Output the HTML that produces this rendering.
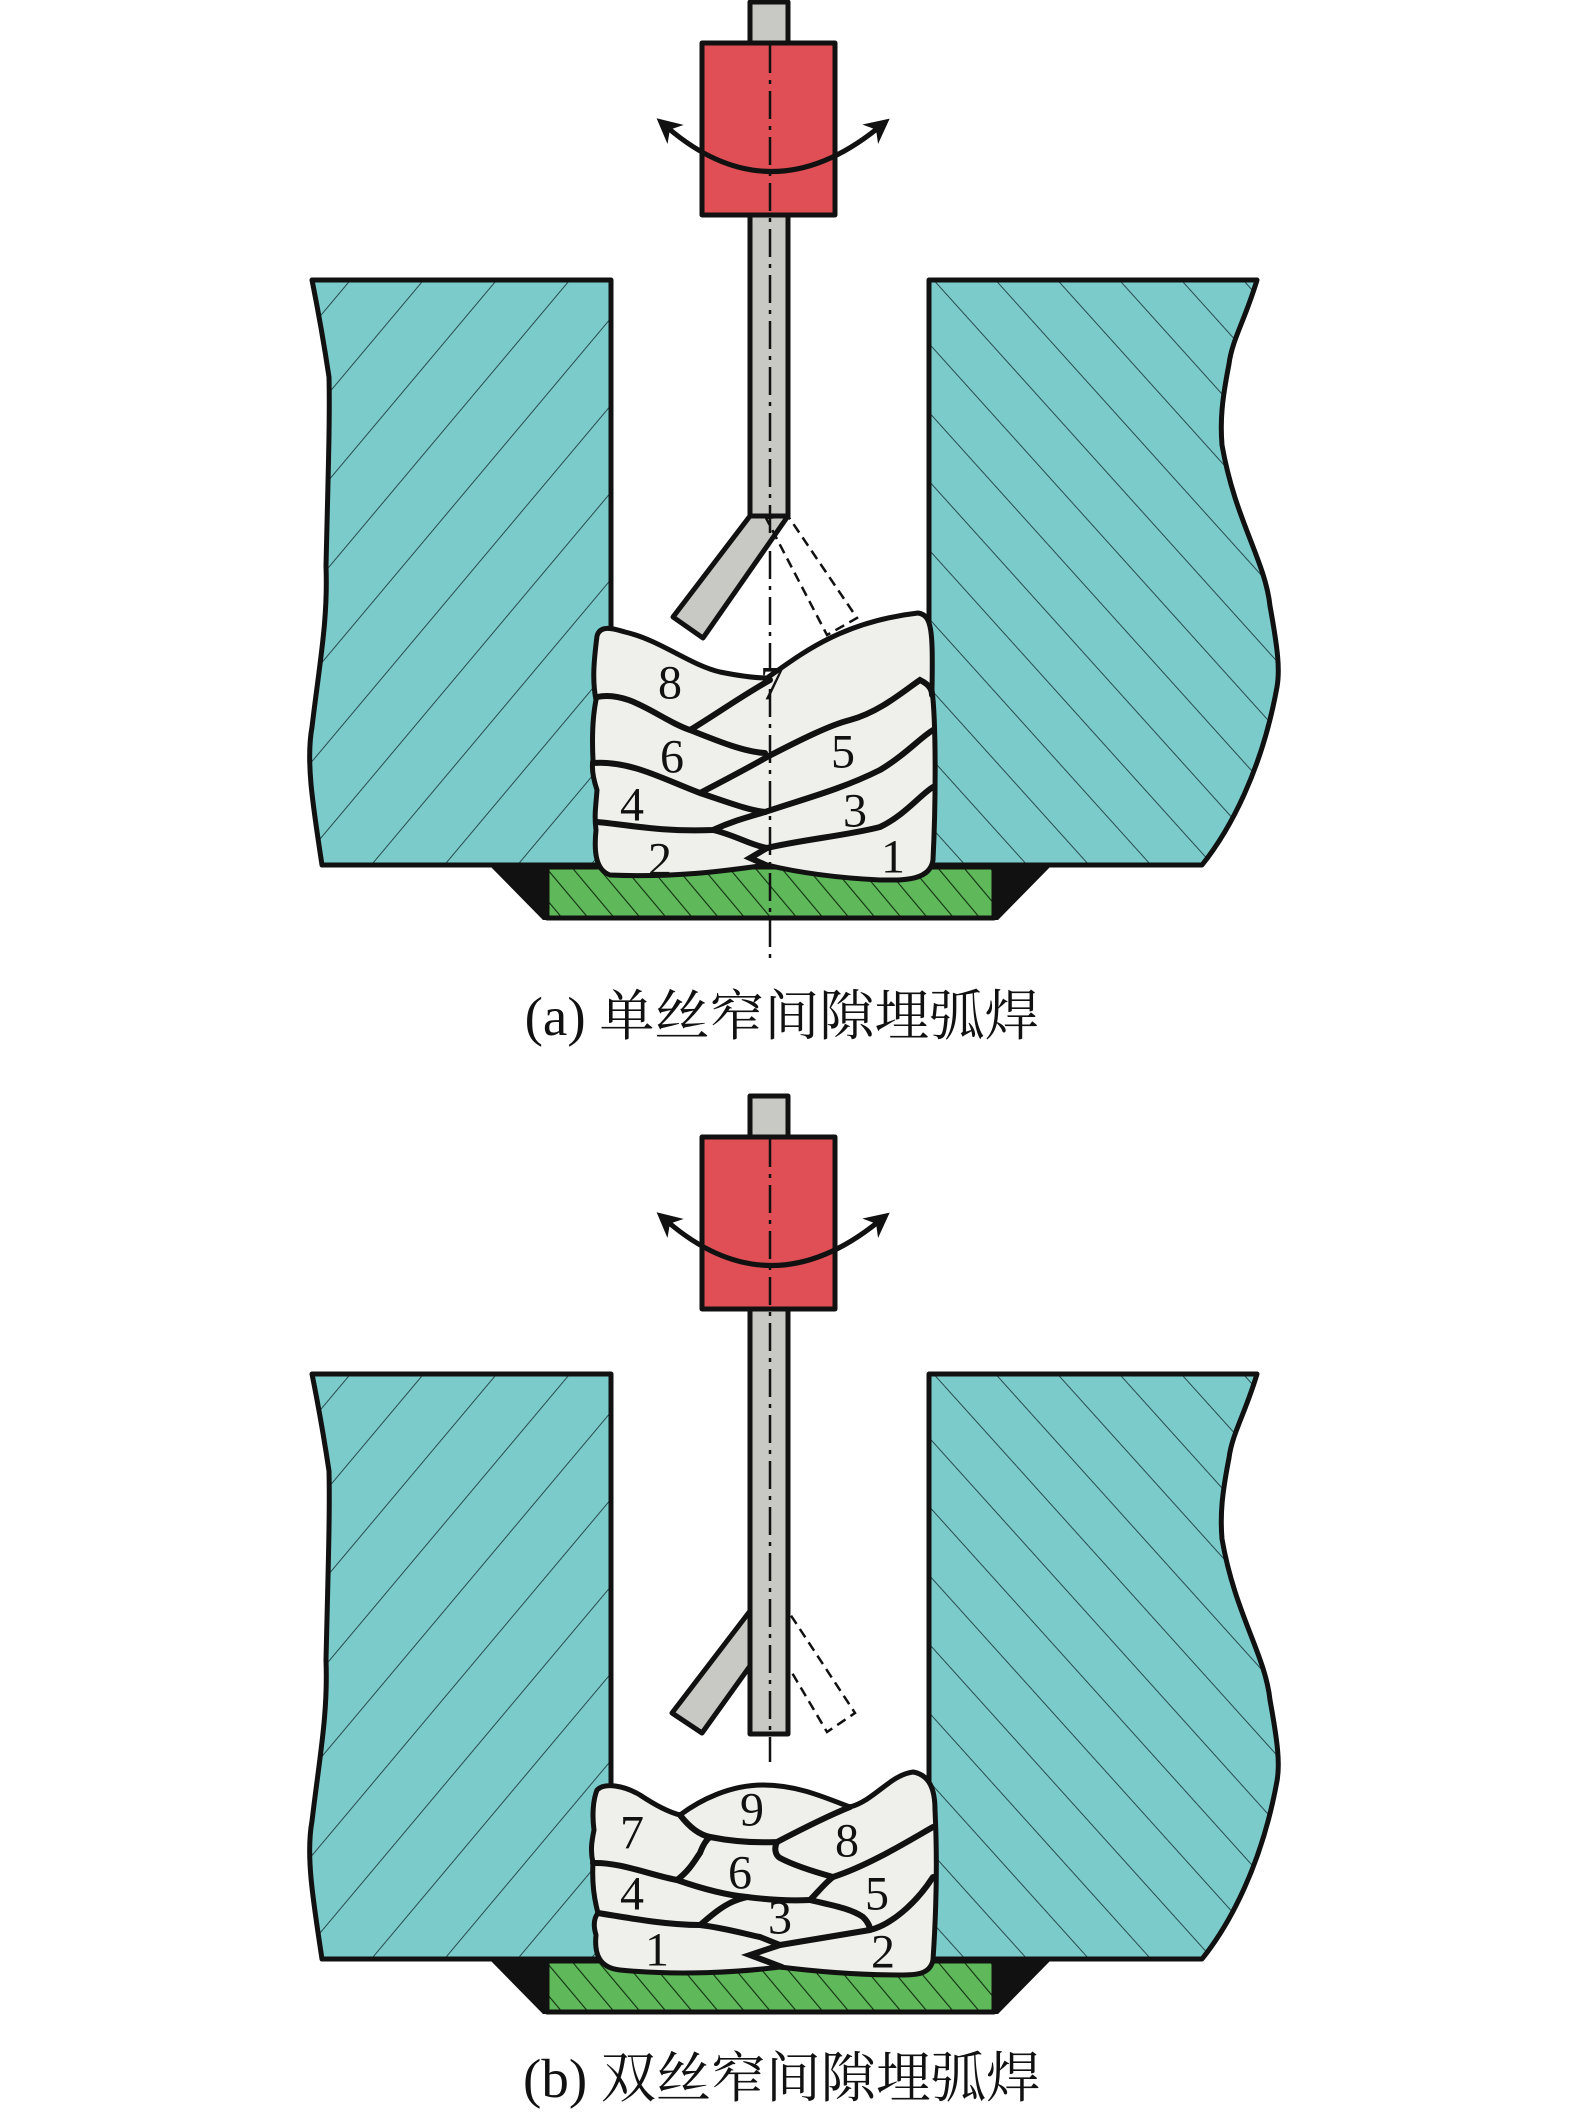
<!DOCTYPE html>
<html><head><meta charset="utf-8"><style>html,body{margin:0;padding:0;background:#fff}svg{display:block}</style></head>
<body>
<svg width="1575" height="2112" viewBox="0 0 1575 2112" xmlns="http://www.w3.org/2000/svg">
<defs>
<pattern id="hl" patternUnits="userSpaceOnUse" width="56" height="56" patternTransform="rotate(40)">
<rect width="56" height="56" fill="#7ccbcb"/><line x1="0" y1="0" x2="0" y2="56" stroke="#1d3d40" stroke-width="1.8"/></pattern>
<pattern id="hr" patternUnits="userSpaceOnUse" width="46" height="46" patternTransform="rotate(-42)">
<rect width="46" height="46" fill="#7ccbcb"/><line x1="0" y1="0" x2="0" y2="46" stroke="#1d3d40" stroke-width="1.8"/></pattern>
<pattern id="hg" patternUnits="userSpaceOnUse" width="20" height="20" patternTransform="rotate(-40)">
<rect width="20" height="20" fill="#5fb85a"/><line x1="0" y1="0" x2="0" y2="20" stroke="#10300e" stroke-width="2.2"/></pattern>
<marker id="ah" markerWidth="5" markerHeight="5" refX="2" refY="2.5" orient="auto-start-reverse" markerUnits="strokeWidth">
<path d="M0,0 L5,2.5 L0,5 L1.5,2.5 Z" fill="#111"/></marker>
</defs>
<style>
.o{stroke:#111;stroke-width:5;stroke-linejoin:round}
.l{fill:none;stroke:#111;stroke-width:6;stroke-linecap:round}
.n{font-family:"Liberation Serif",serif;font-size:48px;fill:#111;text-anchor:middle;dominant-baseline:central}
.cap{font-family:"Liberation Serif","Noto Serif CJK SC",serif;font-size:55px;fill:#111;text-anchor:middle}
</style>

<g>
<path class="o" fill="url(#hl)" d="M312,280 L611,280 L611,865 L322,865 C312,800 306,760 312,727 C320,660 328,620 326,566 C328,480 330,420 329,377 C322,330 316,300 312,280 Z"/>
<path class="o" fill="url(#hr)" d="M929,280 L1257,280 C1245,320 1232,340 1229,364 C1222,400 1220,420 1222,445 C1235,520 1265,560 1270,606 C1278,650 1280,670 1277,687 C1262,770 1230,830 1202,865 L929,865 Z"/>
<path fill="#111" d="M489,865 L1052,865 L998,920 L543,920 Z"/>
<rect class="o" fill="url(#hg)" x="547" y="867" width="447" height="51"/>
<rect class="o" fill="#c8c9c4" x="750" y="2" width="38" height="43"/>
<rect class="o" fill="#c8c9c4" x="750" y="213" width="38" height="303"/>
<polygon class="o" fill="#c8c9c4" points="750,516 788,516 703,638 673,617"/>
<polygon fill="none" stroke="#111" stroke-width="2.5" stroke-dasharray="10,6" points="766,518 788,516 857,618 827,635"/>
<rect class="o" fill="#e04f55" x="702" y="43" width="133" height="172"/>
<path class="o" fill="#efefeb" stroke-width="6" d="M597,636 C600,625 612,628 625,632 C660,640 690,665 720,672 C745,677 758,678 767,678 C800,655 840,622 918,613 C932,615 933,630 932,690 C936,720 936,800 933,860 C930,882 900,880 880,880 C840,878 800,873 767,865 C730,870 680,878 610,875 C595,870 594,850 596,830 C594,815 596,805 597,790 C592,775 592,765 593,760 C592,740 592,720 596,700 C592,680 594,660 597,636 Z"/>
<path class="l" d="M597,697 C630,690 660,720 690,730 C720,742 745,752 765,753"/>
<path class="l" d="M690,730 C715,715 740,697 770,680"/>
<path class="l" d="M767,757 C800,740 830,725 850,720 C880,712 905,690 920,680 C930,685 932,690 932,695"/>
<path class="l" d="M593,763 C630,760 665,780 700,793 C730,803 748,810 765,812"/>
<path class="l" d="M700,793 C725,780 748,768 767,757"/>
<path class="l" d="M765,812 C800,800 840,790 880,770 C905,755 920,738 933,730"/>
<path class="l" d="M597,822 C630,825 660,832 713,830 C735,820 752,816 765,812"/>
<path class="l" d="M713,830 C735,835 750,845 767,848"/>
<path class="l" d="M767,848 C800,840 850,835 880,827 C905,815 920,795 933,787"/>
<path class="l" d="M767,848 L750,858 L768,866"/>
<text class="n" x="670" y="683">8</text>
<text class="n" x="772" y="684">7</text>
<text class="n" x="672" y="757">6</text>
<text class="n" x="843" y="752">5</text>
<text class="n" x="632" y="805">4</text>
<text class="n" x="855" y="811">3</text>
<text class="n" x="660" y="860">2</text>
<text class="n" x="893" y="857">1</text>
<line x1="770" y1="45" x2="770" y2="960" stroke="#111" stroke-width="2.5" stroke-dasharray="28,7,4,7"/>
<path d="M668,128 Q770,215 878,128" fill="none" stroke="#111" stroke-width="5" marker-start="url(#ah)" marker-end="url(#ah)"/>
<text class="cap" x="782" y="1035">(a) 单丝窄间隙埋弧焊</text>
</g>

<g transform="translate(0,1094)">
<path class="o" fill="url(#hl)" d="M312,280 L611,280 L611,865 L322,865 C312,800 306,760 312,727 C320,660 328,620 326,566 C328,480 330,420 329,377 C322,330 316,300 312,280 Z"/>
<path class="o" fill="url(#hr)" d="M929,280 L1257,280 C1245,320 1232,340 1229,364 C1222,400 1220,420 1222,445 C1235,520 1265,560 1270,606 C1278,650 1280,670 1277,687 C1262,770 1230,830 1202,865 L929,865 Z"/>
<path fill="#111" d="M489,865 L1052,865 L998,920 L543,920 Z"/>
<rect class="o" fill="url(#hg)" x="547" y="867" width="447" height="51"/>
<rect class="o" fill="#c8c9c4" x="750" y="2" width="38" height="43"/>
<polygon class="o" fill="#c8c9c4" points="750,517 750,572 702,639 672,619"/>
<polygon fill="none" stroke="#111" stroke-width="2.5" stroke-dasharray="10,6" points="788,517 788,572 827,638 855,619"/>
<rect class="o" fill="#c8c9c4" x="750" y="213" width="38" height="427"/>
<rect class="o" fill="#e04f55" x="702" y="43" width="133" height="172"/>
</g>
<g>
<path class="o" fill="#efefeb" stroke-width="6" d="M597,1790 C605,1782 625,1786 640,1795 C655,1805 668,1812 680,1815 C700,1800 730,1785 763,1785 C800,1785 830,1800 850,1807 C875,1800 890,1775 913,1772 C930,1775 935,1790 935,1810 C937,1850 937,1900 933,1960 C930,1975 915,1975 900,1975 C860,1975 820,1972 780,1967 C740,1972 680,1976 620,1970 C600,1968 594,1955 596,1935 C593,1925 594,1918 598,1913 C593,1895 592,1880 593,1863 C590,1850 592,1840 594,1830 C592,1815 593,1800 597,1790 Z"/>
<path class="l" d="M680,1815 C690,1828 700,1835 710,1837 C735,1842 755,1843 777,1842 C800,1830 830,1815 850,1807"/>
<path class="l" d="M593,1863 C620,1862 650,1875 677,1880"/>
<path class="l" d="M677,1880 C690,1870 695,1860 700,1853 C703,1845 706,1840 710,1837"/>
<path class="l" d="M777,1842 C774,1848 775,1855 780,1858 C795,1866 815,1872 833,1877 C870,1865 910,1840 933,1827"/>
<path class="l" d="M677,1880 C700,1888 725,1895 747,1897 C770,1900 790,1901 810,1900"/>
<path class="l" d="M810,1900 C818,1892 825,1883 833,1877"/>
<path class="l" d="M598,1913 C640,1920 670,1925 700,1925"/>
<path class="l" d="M700,1925 C712,1915 720,1908 730,1903 C738,1899 742,1898 747,1897"/>
<path class="l" d="M700,1925 C725,1928 745,1934 760,1937 C770,1941 775,1943 780,1945"/>
<path class="l" d="M810,1900 C830,1905 850,1908 863,1917 C868,1922 870,1927 870,1930"/>
<path class="l" d="M870,1930 C890,1925 915,1905 933,1877"/>
<path class="l" d="M780,1945 C810,1940 840,1935 870,1930"/>
<path class="l" d="M780,1945 L750,1955 L782,1967"/>
<text class="n" x="632" y="1833">7</text>
<text class="n" x="752" y="1810">9</text>
<text class="n" x="847" y="1841">8</text>
<text class="n" x="740" y="1873">6</text>
<text class="n" x="632" y="1894">4</text>
<text class="n" x="877" y="1894">5</text>
<text class="n" x="780" y="1918">3</text>
<text class="n" x="657" y="1950">1</text>
<text class="n" x="883" y="1952">2</text>
<line x1="770" y1="1139" x2="770" y2="1762" stroke="#111" stroke-width="2.5" stroke-dasharray="28,7,4,7"/>
<path d="M668,1222 Q770,1309 878,1222" fill="none" stroke="#111" stroke-width="5" marker-start="url(#ah)" marker-end="url(#ah)"/>
<text class="cap" x="782" y="2097">(b) 双丝窄间隙埋弧焊</text>
</g>
</svg>
</body></html>
